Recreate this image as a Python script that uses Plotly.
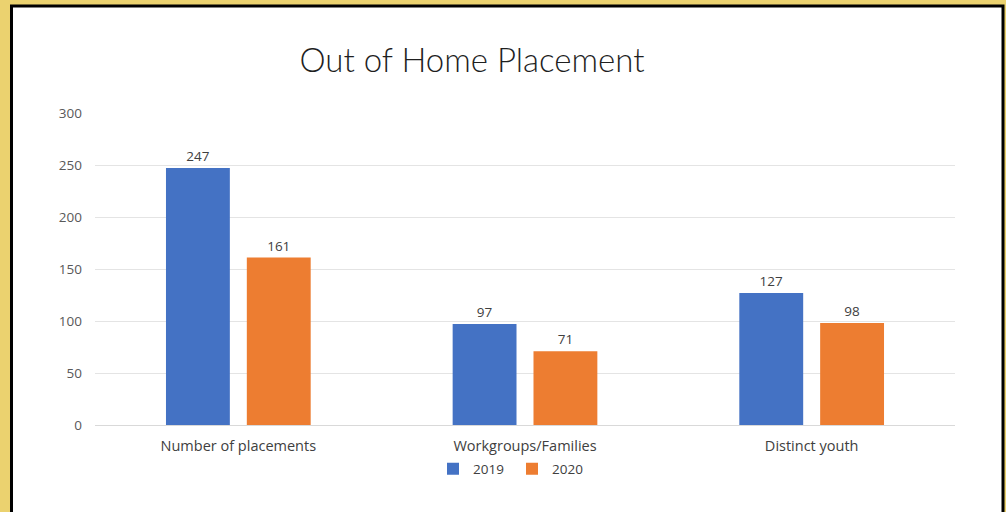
import plotly.graph_objects as go

categories = ["Number of placements", "Workgroups/Families", "Distinct youth"]
values_2019 = [247, 97, 127]
values_2020 = [161, 71, 98]
series_names = ["2019", "2020"]
tick_values = [0, 50, 100, 150, 200, 250, 300]

W, H = 1006, 512
ML, MR, MT, MB = 95, 51, 113, 87
PW, PH = W - ML - MR, H - MT - MB
TEXT_FONT = "Open Sans, sans-serif"


def px_x(x):
    return (x - ML) / PW


def px_y(y):
    return (H - MB - y) / PH


fig = go.Figure()
for name, vals, color in [(series_names[0], values_2019, "#4472C4"),
                          (series_names[1], values_2020, "#ED7D31")]:
    fig.add_trace(go.Bar(
        x=categories, y=vals, name=name,
        marker=dict(color=color, line=dict(width=0)),
        text=[str(v) for v in vals], textposition="outside",
        textfont=dict(family=TEXT_FONT, size=13.5, color="#404040"),
        cliponaxis=False,
    ))

fig.update_layout(
    width=W, height=H,
    margin=dict(l=ML, r=MR, t=MT, b=MB),
    paper_bgcolor="#EBD26F",
    plot_bgcolor="rgba(0,0,0,0)",
    barmode="group", bargap=0.436, bargroupgap=0.21,
    title=dict(text="Out of Home Placement", x=px_x(472), xref="paper",
               xanchor="center", y=1 - 60 / H, yanchor="middle",
               font=dict(family="Lato, sans-serif", size=33, weight=300,
                         color="#1F1F1F")),
    font=dict(family=TEXT_FONT, color="#595959"),
    showlegend=True,
    legend=dict(orientation="h", x=px_x(512), xanchor="center",
                y=px_y(469), yanchor="middle",
                font=dict(size=13.5, color="#404040"),
                itemwidth=30, entrywidth=34, tracegroupgap=0,
                bgcolor="rgba(0,0,0,0)"),
    shapes=[dict(type="rect", xref="paper", yref="paper",
                 x0=px_x(11.5), x1=px_x(1003), y0=px_y(520), y1=px_y(6),
                 line=dict(color="black", width=3), fillcolor="white",
                 layer="below")],
)
fig.update_xaxes(showgrid=False, showline=True, linecolor="#D9D9D9",
                 linewidth=1, ticks="", ticklabelstandoff=8,
                 tickfont=dict(size=14.5, color="#404040"))
fig.update_yaxes(range=[0, 300], tickvals=tick_values, showgrid=True,
                 gridcolor="#E4E4E4", gridwidth=1, zeroline=False,
                 showline=False, ticks="", ticklabelstandoff=12,
                 tickfont=dict(size=13.5, color="#595959"))

fig.write_html("out.html")
